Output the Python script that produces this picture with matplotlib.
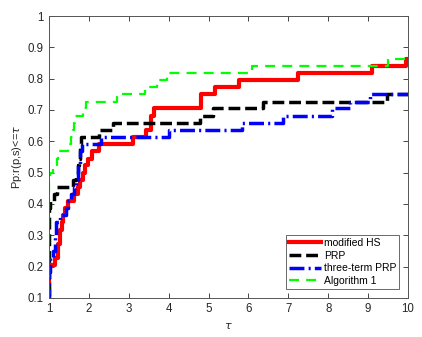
import numpy as np
import matplotlib
matplotlib.use('Agg')
import matplotlib.pyplot as plt

plt.rcParams['font.family'] = ['Liberation Sans', 'DejaVu Sans']

# performance profile step points (tau, fraction of problems)
t_hs = [1.0, 1.0, 1.03, 1.15, 1.22, 1.27, 1.32, 1.36, 1.40, 1.47, 1.62, 1.72, 1.78,
        1.85, 1.90, 1.98, 2.07, 2.25, 3.10, 3.42, 3.55, 3.63, 4.81, 5.16, 5.76,
        7.24, 9.09, 9.95, 10.0]
p_hs = [0.0, 0.182, 0.205, 0.227, 0.273, 0.318, 0.341, 0.364, 0.386, 0.409, 0.432,
        0.455, 0.477, 0.500, 0.523, 0.545, 0.568, 0.591, 0.614, 0.636, 0.682, 0.705,
        0.750, 0.773, 0.795, 0.818, 0.841, 0.864, 0.864]

t_prp = [1.0, 1.0, 1.03, 1.12, 1.20, 1.60, 1.68, 1.72, 1.75, 1.78, 1.80, 2.25, 2.60,
         4.78, 5.12, 6.36, 9.46, 10.0]
p_prp = [0.0, 0.386, 0.409, 0.432, 0.455, 0.477, 0.500, 0.523, 0.545, 0.591, 0.614,
         0.636, 0.659, 0.682, 0.705, 0.727, 0.750, 0.750]

t_ttprp = [1.0, 1.0, 1.03, 1.10, 1.14, 1.18, 1.27, 1.42, 1.47, 1.55, 1.62, 1.68, 1.73,
           1.78, 1.82, 2.30, 4.00, 5.83, 6.87, 8.10, 8.55, 9.05, 10.0]
p_ttprp = [0.0, 0.182, 0.227, 0.250, 0.295, 0.341, 0.364, 0.386, 0.409, 0.432, 0.455,
           0.477, 0.523, 0.568, 0.591, 0.614, 0.636, 0.659, 0.682, 0.705, 0.727, 0.750,
           0.750]

t_alg1 = [1.0, 1.0, 1.02, 1.10, 1.20, 1.23, 1.48, 1.55, 1.60, 1.63, 1.65, 1.85, 1.92,
          2.70, 3.40, 3.70, 3.95, 6.10, 9.50, 10.0]
p_alg1 = [0.0, 0.477, 0.500, 0.523, 0.545, 0.568, 0.591, 0.614, 0.636, 0.659, 0.682,
          0.705, 0.727, 0.750, 0.773, 0.795, 0.818, 0.841, 0.864, 0.864]

fig = plt.figure(figsize=(4.22, 3.37), dpi=100)
ax = fig.add_axes([0.116, 0.116, 0.851, 0.8365])

ax.plot(t_hs, p_hs, color='#ff0000', lw=3.0, drawstyle='steps-post', label='modified HS')
ax.plot(t_prp, p_prp, color='k', lw=2.5, drawstyle='steps-post', dashes=(3.4, 1.4),
        label='PRP')
ax.plot(t_ttprp, p_ttprp, color='#0000ff', lw=2.5, drawstyle='steps-post',
        dashes=(4.3, 1.2, 0.6, 1.2), label='three-term PRP')
ax.plot(t_alg1, p_alg1, color='#00ff00', lw=1.6, drawstyle='steps-post',
        dashes=(4.5, 3.2), label='Algorithm 1')

ax.set_xlim(1, 10)
ax.set_ylim(0.1, 1)
ax.set_xticks(np.arange(1, 11))
ax.set_yticks(np.arange(0.1, 1.01, 0.1))
ax.set_yticklabels(['0.1', '0.2', '0.3', '0.4', '0.5', '0.6', '0.7', '0.8', '0.9', '1'])
ax.tick_params(direction='in', length=3.5, width=0.6, top=True, right=True,
               labelsize=8.3, colors='#262626', pad=4)
for s in ax.spines.values():
    s.set_color('#555555')
    s.set_linewidth(0.7)

ax.set_xlabel(r'$\tau$', fontsize=8, color='#262626')
ax.set_ylabel(r'Pp:r(p,s)<=$\tau$', fontsize=8, color='#262626', labelpad=2)

leg = ax.legend(loc='lower right', fontsize=7.5, handlelength=3.0, frameon=True,
                fancybox=False, edgecolor='#262626', borderaxespad=0.85,
                labelspacing=0.25, handletextpad=0.3, borderpad=0.3)
leg.get_frame().set_linewidth(0.6)

fig.savefig('out.png', dpi=100)
